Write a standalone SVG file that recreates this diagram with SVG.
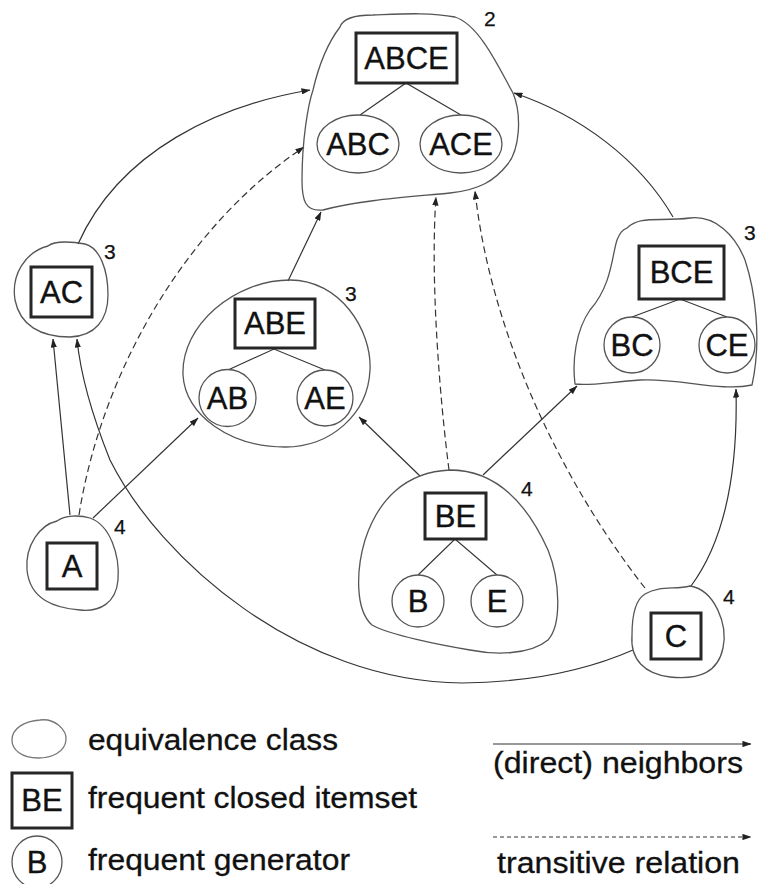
<svg xmlns="http://www.w3.org/2000/svg" width="769" height="884" viewBox="0 0 769 884">
<style>
.blob{fill:none;stroke:#555;stroke-width:1.3}
.box{fill:#fff;stroke:#262626;stroke-width:3}
.gen{fill:#fff;stroke:#555;stroke-width:1.3}
.tree{fill:none;stroke:#333;stroke-width:1.1}
.lbl{font-family:"Liberation Sans",Arial,Helvetica,sans-serif;font-size:31px;fill:#111;stroke:#111;stroke-width:0.35;text-anchor:middle}
.cnt{font-family:"Liberation Sans",Arial,Helvetica,sans-serif;font-size:21px;fill:#111;stroke:#111;stroke-width:0.25}
.leg{font-family:"Liberation Sans",Arial,Helvetica,sans-serif;font-size:29px;fill:#111;stroke:#111;stroke-width:0.3}
.sol{fill:none;stroke:#333;stroke-width:1.2;marker-end:url(#ah)}
.dsh{fill:none;stroke:#333;stroke-width:1.2;stroke-dasharray:7 4;marker-end:url(#ah)}
</style>
<defs>
<marker id="ah" viewBox="0 0 10 7" refX="9.5" refY="3.5" markerWidth="9" markerHeight="6.3" markerUnits="userSpaceOnUse" orient="auto">
<path d="M0,0 L10,3.5 L0,7 z" fill="#222"/>
</marker>
</defs>

<g id="connectors">
<path class="sol" d="M78,244 C 120,150 220,105 310,90"/>
<path class="dsh" d="M79,515 C 100,380 180,230 304,147"/>
<path class="sol" d="M70,515 L53,339"/>
<path class="sol" d="M93,518 L198,418"/>
<path class="sol" d="M288,281 L321,212"/>
<path class="sol" d="M420,476 L359,417"/>
<path class="dsh" d="M449,470 C 440,400 430,280 436,197"/>
<path class="sol" d="M483,475 L577,386"/>
<path class="dsh" d="M645,588 C 560,480 490,330 475,191"/>
<path class="sol" d="M691,586 C 725,540 738,470 736,389"/>
<path class="sol" d="M673,217 C 640,160 580,115 514,93"/>
<path class="sol" d="M633,650 Q 560,682 462,683 C 300,682 160,560 110,460 C 90,410 80,370 77,339"/>
</g>

<g id="class-ABCE">
<path class="blob" d="M340,27 C 343,18 355,15 373,15 C 400,14 430,12 455,17 C 480,25 500,70 513,93 C 522,115 520,150 507,165 C 495,180 480,190 450,193 C 410,197 360,200 323,210 C 305,212 302,200 302,180 C 302,140 308,105 313,90 C 320,60 330,40 340,27 Z"/>
<path class="tree" d="M360,115 L406,83 L461,115"/>
<rect class="box" x="356" y="33" width="101" height="50"/>
<text class="lbl" x="406.5" y="69">ABCE</text>
<ellipse class="gen" cx="358" cy="144" rx="41" ry="29"/>
<text class="lbl" x="358" y="155">ABC</text>
<ellipse class="gen" cx="461" cy="144" rx="41" ry="29"/>
<text class="lbl" x="461" y="155">ACE</text>
<text class="cnt" x="484" y="26">2</text>
</g>

<g id="class-AC">
<path class="blob" d="M48,246 C 55,240 75,242 85,244 C 100,248 108,270 108,295 C 108,320 95,336 70,337 C 40,337 20,325 15,300 C 11,275 25,252 48,246 Z"/>
<rect class="box" x="31" y="267" width="61" height="50"/>
<text class="lbl" x="61.5" y="303">AC</text>
<text class="cnt" x="104" y="259">3</text>
</g>

<g id="class-ABE">
<path class="blob" d="M290,280 C 340,280 372,330 370,370 C 368,415 330,447 285,447 C 230,447 185,415 183,375 C 181,325 235,280 290,280 Z"/>
<path class="tree" d="M228,370 L274,349 L325,370"/>
<rect class="box" x="235" y="299" width="80" height="49"/>
<text class="lbl" x="275" y="334">ABE</text>
<circle class="gen" cx="227.5" cy="398" r="28.5"/>
<text class="lbl" x="227.5" y="409">AB</text>
<circle class="gen" cx="325" cy="398" r="28"/>
<text class="lbl" x="325" y="409">AE</text>
<text class="cnt" x="345" y="301">3</text>
</g>

<g id="class-BCE">
<path class="blob" d="M627,228 C 640,215 660,222 690,218 C 715,215 735,235 745,260 C 755,290 762,340 752,385 C 720,392 680,378 640,380 C 610,382 590,386 575,384 C 572,360 576,330 590,310 C 612,285 612,255 617,240 C 620,233 622,230 627,228 Z"/>
<path class="tree" d="M632,317 L680,299 L727,317"/>
<rect class="box" x="639" y="246" width="85" height="53"/>
<text class="lbl" x="681.5" y="283">BCE</text>
<circle class="gen" cx="632" cy="345" r="28"/>
<text class="lbl" x="632" y="356">BC</text>
<circle class="gen" cx="727" cy="345" r="28"/>
<text class="lbl" x="727" y="356">CE</text>
<text class="cnt" x="744" y="240">3</text>
</g>

<g id="class-A">
<path class="blob" d="M57,521 C 65,515 80,515 90,518 C 110,525 120,555 118,580 C 116,603 100,612 80,610 C 55,608 30,600 27,570 C 25,545 40,525 57,521 Z"/>
<rect class="box" x="47" y="543" width="50" height="46"/>
<text class="lbl" x="72" y="577">A</text>
<text class="cnt" x="114" y="534">4</text>
</g>

<g id="class-BE">
<path class="blob" d="M450,470 C 500,470 530,510 548,550 C 560,580 562,625 548,640 C 530,655 495,655 470,650 C 440,645 390,635 372,625 C 355,610 356,570 365,540 C 378,500 405,472 450,470 Z"/>
<path class="tree" d="M418,575 L455,539 L497,575"/>
<rect class="box" x="425" y="493" width="61" height="46"/>
<text class="lbl" x="455.5" y="527">BE</text>
<circle class="gen" cx="418" cy="601" r="26"/>
<text class="lbl" x="418" y="612">B</text>
<circle class="gen" cx="497" cy="601" r="26"/>
<text class="lbl" x="497" y="612">E</text>
<text class="cnt" x="521" y="496">4</text>
</g>

<g id="class-C">
<path class="blob" d="M645,594 C 660,585 675,590 690,586 C 715,590 728,625 723,648 C 718,672 700,680 670,677 C 645,674 630,660 632,635 C 632,615 635,600 645,594 Z"/>
<rect class="box" x="651" y="613" width="50" height="46"/>
<text class="lbl" x="676" y="647">C</text>
<text class="cnt" x="723" y="604">4</text>
</g>

<g id="legend">
<path class="blob" d="M40,720 C 55,718 67,730 66,740 C 65,752 52,758 38,758 C 22,758 12,750 12,740 C 12,728 25,721 40,720 Z" style="stroke:#777"/>
<text class="leg" x="88" y="750" textLength="250" lengthAdjust="spacingAndGlyphs">equivalence class</text>
<rect class="box" x="12" y="773" width="60" height="55"/>
<text class="lbl" x="42" y="811">BE</text>
<text class="leg" x="88" y="808" textLength="329" lengthAdjust="spacingAndGlyphs">frequent closed itemset</text>
<ellipse class="gen" cx="37" cy="862" rx="25" ry="26"/>
<text class="lbl" x="37" y="873">B</text>
<text class="leg" x="88" y="870" textLength="262" lengthAdjust="spacingAndGlyphs">frequent generator</text>
<path class="sol" d="M493,744 L751,744"/>
<text class="leg" x="493" y="773" textLength="250" lengthAdjust="spacingAndGlyphs">(direct) neighbors</text>
<path class="dsh" d="M493,837 L751,837" style="stroke-dasharray:4 3"/>
<text class="leg" x="497" y="873" textLength="243" lengthAdjust="spacingAndGlyphs">transitive relation</text>
</g>
</svg>
